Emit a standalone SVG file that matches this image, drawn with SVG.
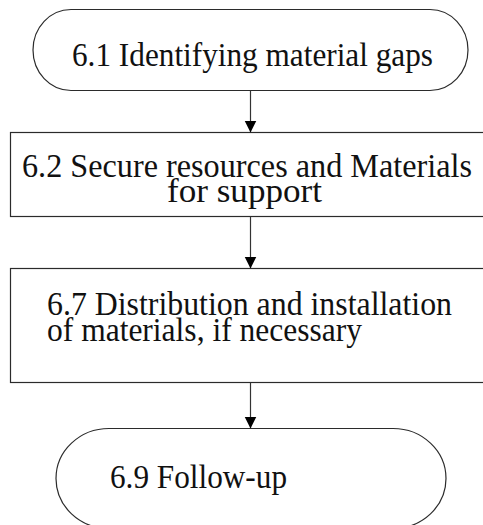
<svg xmlns="http://www.w3.org/2000/svg" width="483" height="525" viewBox="0 0 483 525">
  <style>
    .box { fill: #ffffff; stroke: #2b2b2b; stroke-width: 1.2; }
    .lbl { font-family: "Liberation Serif", "Times New Roman", serif; font-size: 34px; fill: #111111; }
    .wire { stroke: #333333; stroke-width: 1.2; fill: none; }
  </style>
  <defs>
    <marker id="head" markerUnits="userSpaceOnUse" markerWidth="14" markerHeight="13" refX="12" refY="6" orient="auto">
      <path d="M0,0 L12,6 L0,12 Z" fill="#000000"/>
    </marker>
  </defs>
  <rect width="483" height="525" fill="#ffffff"/>

  <!-- start terminal -->
  <g id="n61">
    <path class="box" d="M71,9.5 H430 A38,40.5 0 0 1 430,90.5 H71 A38,40.5 0 0 1 71,9.5 Z"/>
    <text class="lbl" x="72" y="66" textLength="361" lengthAdjust="spacingAndGlyphs">6.1 Identifying material gaps</text>
  </g>

  <!-- resources step -->
  <g id="n62">
    <rect class="box" x="10.5" y="132.5" width="480" height="84"/>
    <text class="lbl" x="22" y="176.5" textLength="450" lengthAdjust="spacingAndGlyphs">6.2 Secure resources and Materials</text>
    <text class="lbl" x="167" y="201.5" textLength="155" lengthAdjust="spacingAndGlyphs">for support</text>
  </g>

  <!-- distribution step -->
  <g id="n67">
    <rect class="box" x="10.5" y="268.5" width="480" height="114"/>
    <text class="lbl" x="47" y="315" textLength="405" lengthAdjust="spacingAndGlyphs">6.7 Distribution and installation</text>
    <text class="lbl" x="47" y="340.5" textLength="315" lengthAdjust="spacingAndGlyphs">of materials, if necessary</text>
  </g>

  <!-- end terminal -->
  <g id="n69">
    <path class="box" d="M109,428.5 H393 A53,50 0 0 1 393,528.5 H109 A53,50 0 0 1 109,428.5 Z"/>
    <text class="lbl" x="110" y="488" textLength="177" lengthAdjust="spacingAndGlyphs">6.9 Follow-up</text>
  </g>

  <!-- connectors -->
  <g id="connectors">
    <line class="wire" x1="250.5" y1="90.5" x2="250.5" y2="132.5" marker-end="url(#head)"/>
    <line class="wire" x1="250.5" y1="216.5" x2="250.5" y2="268.5" marker-end="url(#head)"/>
    <line class="wire" x1="250.5" y1="382.5" x2="250.5" y2="428.5" marker-end="url(#head)"/>
  </g>
</svg>
